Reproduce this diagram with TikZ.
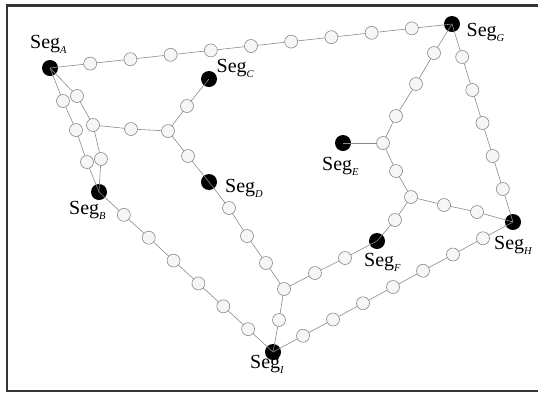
\documentclass[tikz,border=0pt]{standalone}
\usepackage{fontspec}
\setmainfont{Liberation Serif}
\definecolor{linkgray}{HTML}{8A8A8A}
\definecolor{relayfill}{HTML}{F6F6F6}
\definecolor{framegray}{HTML}{333333}
\pgfdeclarelayer{segs}
\pgfdeclarelayer{links}
\pgfsetlayers{segs,links,main}
\newcommand{\seglabel}[1]{\rmfamily Seg\raisebox{-5pt}{\fontsize{10.5}{10.5}\selectfont\itshape #1}}
\begin{document}
\begin{tikzpicture}[x=1pt,y=-1pt,
  relay/.style={circle,draw=linkgray,fill=relayfill,line width=0.6pt,minimum size=13pt,inner sep=0pt},
  seg/.style={circle,fill=black,minimum size=16pt,inner sep=0pt},
  link/.style={draw=linkgray,line width=0.6pt},
  lbl/.style={anchor=base west,inner sep=0pt,font=\fontsize{20}{20}\selectfont}]
\useasboundingbox (0,0) rectangle (538,392);
\clip (0,0) rectangle (538,392);
% open frame (right side runs off the page)
\draw[framegray,line width=2.2pt] (560,5.5) -- (7,5.5) -- (7,390.8) -- (560,390.8);

% segment stations
\begin{pgfonlayer}{segs}
\node[seg] (A) at (50,68) {};
\node[seg] (B) at (99,192) {};
\node[seg] (C) at (209,79) {};
\node[seg] (D) at (209,182) {};
\node[seg] (E) at (343,143) {};
\node[seg] (F) at (377,241) {};
\node[seg] (G) at (452,24) {};
\node[seg] (H) at (513,222) {};
\node[seg] (I) at (273,352) {};
\end{pgfonlayer}

% relay nodes on the straight runs
\foreach \k in {1,...,9} \node[relay] (t\k) at ({50+40.2*\k},{68-4.4*\k}) {};
\foreach \k in {1,...,6} \node[relay] (b\k) at ({99+174*\k/7},{192+160*\k/7}) {};
\foreach \k in {1,...,7} \node[relay] (s\k) at ({273+30*\k},{352-16.25*\k}) {};
\foreach \k in {1,...,5} \node[relay] (r\k) at ({452+61*\k/6},{24+198*\k/6}) {};

% relay nodes on the inner branches
\node[relay] (l1) at (63,101) {};
\node[relay] (l2) at (76,130) {};
\node[relay] (l3) at (87,162) {};
\node[relay] (m1) at (77,96) {};
\node[relay] (j1) at (93,125) {};
\node[relay] (m2) at (101,159) {};
\node[relay] (h1) at (131,129) {};
\node[relay] (j2) at (168,131) {};
\node[relay] (c1) at (187,106) {};
\node[relay] (d1) at (188,156) {};
\node[relay] (d2) at (229,208) {};
\node[relay] (d3) at (247,236) {};
\node[relay] (d4) at (266,263) {};
\node[relay] (j3) at (284,289) {};
\node[relay] (i1) at (279,320) {};
\node[relay] (f1) at (315,273) {};
\node[relay] (f2) at (345,258) {};
\node[relay] (f3) at (395,220) {};
\node[relay] (j4) at (411,197) {};
\node[relay] (h2) at (444,205) {};
\node[relay] (h3) at (477,212) {};
\node[relay] (e1) at (396,171) {};
\node[relay] (j5) at (383,143) {};
\node[relay] (g1) at (396,116) {};
\node[relay] (g2) at (416,84) {};
\node[relay] (g3) at (434,53) {};

% links
\begin{pgfonlayer}{links}
\draw[link] (A.center) \foreach \k in {1,...,9}{ -- (t\k.center)} -- (G.center);
\draw[link] (B.center) \foreach \k in {1,...,6}{ -- (b\k.center)} -- (I.center);
\draw[link] (I.center) \foreach \k in {1,...,7}{ -- (s\k.center)} -- (H.center);
\draw[link] (G.center) \foreach \k in {1,...,5}{ -- (r\k.center)} -- (H.center);
\draw[link] (A.center) -- (l1.center) -- (l2.center) -- (l3.center) -- (B.center);
\draw[link] (A.center) -- (m1.center) -- (j1.center) -- (m2.center) -- (B.center);
\draw[link] (j1.center) -- (h1.center) -- (j2.center);
\draw[link] (C.center) -- (c1.center) -- (j2.center) -- (d1.center) -- (D.center);
\draw[link] (D.center) -- (d2.center) -- (d3.center) -- (d4.center) -- (j3.center);
\draw[link] (j3.center) -- (i1.center) -- (I.center);
\draw[link] (j3.center) -- (f1.center) -- (f2.center) -- (F.center);
\draw[link] (F.center) -- (f3.center) -- (j4.center);
\draw[link] (j4.center) -- (h2.center) -- (h3.center) -- (H.center);
\draw[link] (j4.center) -- (e1.center) -- (j5.center);
\draw[link] (E.center) -- (j5.center);
\draw[link] (j5.center) -- (g1.center) -- (g2.center) -- (g3.center) -- (G.center);
\end{pgfonlayer}

% station labels
\node[lbl] (LA) at (30,48.5) {\seglabel{A}};
\node[lbl] (LB) at (69,214) {\seglabel{B}};
\node[lbl] (LC) at (216.5,72) {\seglabel{C}};
\node[lbl] (LD) at (225,192) {\seglabel{D}};
\node[lbl] (LE) at (322,170) {\seglabel{E}};
\node[lbl] (LF) at (364,266) {\seglabel{F}};
\node[lbl] (LG) at (466.5,36.7) {\seglabel{G}};
\node[lbl] (LH) at (494,249) {\seglabel{H}};
\node[lbl] (LI) at (250,368) {\seglabel{I}};
\end{tikzpicture}
\end{document}
